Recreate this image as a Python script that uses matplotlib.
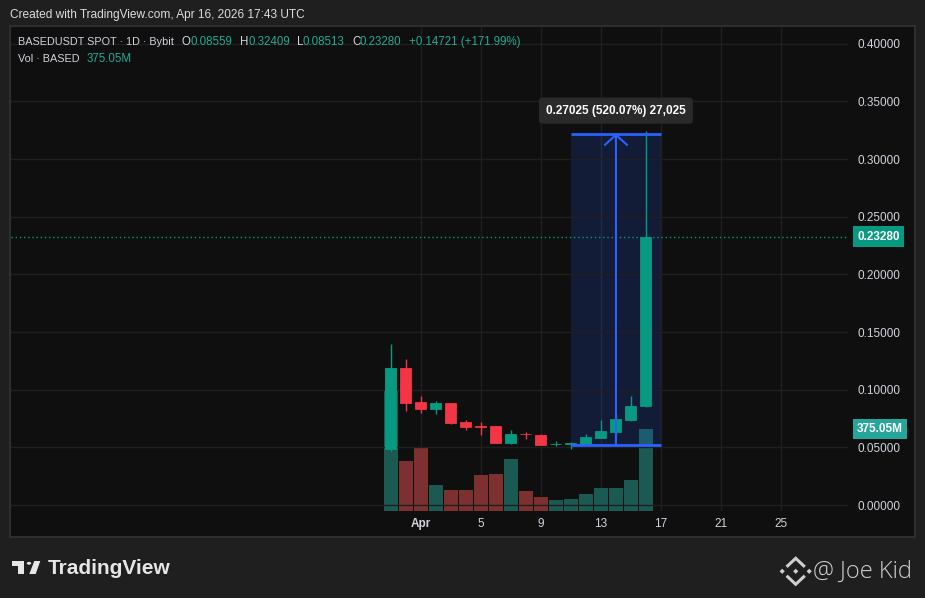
import matplotlib
matplotlib.use('Agg')
import matplotlib.pyplot as plt
import matplotlib.dates as mdates
from matplotlib.patches import Rectangle, Polygon, Circle
from matplotlib.lines import Line2D
from matplotlib.transforms import blended_transform_factory
import numpy as np

# daily candles, BASEDUSDT spot (Bybit)
dates = ['2026-03-30', '2026-03-31', '2026-04-01', '2026-04-02', '2026-04-03',
         '2026-04-04', '2026-04-05', '2026-04-06', '2026-04-07', '2026-04-08',
         '2026-04-09', '2026-04-10', '2026-04-11', '2026-04-12', '2026-04-13',
         '2026-04-14', '2026-04-15', '2026-04-16']
opens = [0.0486, 0.1188, 0.0893, 0.0833, 0.0885, 0.0720, 0.0684, 0.0685, 0.0538,
         0.0620, 0.0610, 0.0525, 0.0533, 0.0529, 0.0581, 0.0633, 0.0737, 0.08559]
highs = [0.1396, 0.1266, 0.0945, 0.0902, 0.0886, 0.0737, 0.0720, 0.0687, 0.0650,
         0.0636, 0.0616, 0.0555, 0.0546, 0.0616, 0.0737, 0.0789, 0.0945, 0.32409]
lows = [0.0470, 0.0818, 0.0798, 0.0792, 0.0703, 0.0650, 0.0607, 0.0537, 0.0529,
        0.0572, 0.0519, 0.0512, 0.0490, 0.0520, 0.0578, 0.0600, 0.0728, 0.08513]
closes = [0.1188, 0.0888, 0.0833, 0.0885, 0.0711, 0.0677, 0.0680, 0.0538, 0.0616,
          0.0614, 0.0520, 0.0528, 0.0536, 0.0590, 0.0642, 0.0746, 0.08559, 0.23280]
volumes_m = [553, 229, 288, 119, 96, 96, 165, 169, 238, 91.5, 64, 50, 55, 78,
             105, 105, 142, 375.05]

tick_dates = ['2026-04-01', '2026-04-05', '2026-04-09', '2026-04-13',
              '2026-04-17', '2026-04-21', '2026-04-25']
tick_labels = ['Apr', '5', '9', '13', '17', '21', '25']
price_ticks = [0.0, 0.05, 0.10, 0.15, 0.20, 0.25, 0.30, 0.35, 0.40]

# price range measure drawn on the chart
measure_start = '2026-04-11'
measure_end = '2026-04-17'
measure_low = 0.05196
measure_high = 0.32221
measure_text = '0.27025 (520.07%) 27,025'

UP = '#089981'
DOWN = '#f23645'
VOL_UP = '#1b5a52'
VOL_DOWN = '#7c3030'
TXT = '#d1d4dc'
TEAL_TXT = '#22ab94'
GRID = '#1f1f1f'
FONT = 'Liberation Sans'

W, H = 925, 598


def fx(x):
    return x / W


def fy(y):
    return 1 - y / H


fig = plt.figure(figsize=(W / 100, H / 100), dpi=100)
fig.patch.set_facecolor('#1f1f1f')

# chart pane
fig.add_artist(Rectangle((fx(10), fy(537)), 905 / W, 511 / H, transform=fig.transFigure,
                         fc='#0f0f0f', ec='#2e2e2e', lw=1.5, zorder=-5))

x = mdates.datestr2num(dates)
o = np.array(opens)
c = np.array(closes)
up = c >= o
apr1 = mdates.datestr2num('2026-04-01')

# volume axis underneath, price axis on top
ax = fig.add_axes([fx(11), fy(511), 837 / W, 484 / H])
ax.patch.set_visible(False)
ax.bar(x, np.array(volumes_m) * 1e6, width=0.92,
       color=[VOL_UP if u else VOL_DOWN for u in up], zorder=2)
ax.set_ylim(0, 2214e6)
ax.set_xlim(apr1 - 27.33, apr1 + 28.47)
ax.set_yticks([])
ax.set_xticks(mdates.datestr2num(tick_dates))
ax.set_xticklabels(tick_labels)
ax.tick_params(axis='x', length=0, pad=5, labelsize=8.5, labelcolor=TXT)
for lab in ax.get_xticklabels():
    lab.set_fontfamily(FONT)
ax.get_xticklabels()[0].set_fontweight('bold')
ax.grid(axis='x', color=GRID, lw=1, zorder=0)
for s in ax.spines.values():
    s.set_visible(False)

vol_tr = blended_transform_factory(ax.transAxes, ax.transData)
ax.text(1.0108, volumes_m[-1] * 1e6, f'{volumes_m[-1]:.2f}M', transform=vol_tr,
        ha='left', va='center', fontsize=8.5, family=FONT, fontweight='bold', color='white',
        bbox=dict(boxstyle='square,pad=0.35', fc='#26a69a', ec='none'), clip_on=False)

axp = ax.twinx()
axp.set_ylim(-0.0052, 0.4146)
axp.set_yticks(price_ticks)
axp.set_yticklabels([f'{p:.5f}' for p in price_ticks])
axp.tick_params(axis='y', length=0, pad=6.5, labelsize=8.5, labelcolor=TXT)
for lab in axp.get_yticklabels():
    lab.set_fontfamily(FONT)
axp.grid(axis='y', color=GRID, lw=1, zorder=0)
for s in axp.spines.values():
    s.set_visible(False)

# measure box
ms = mdates.datestr2num(measure_start)
me = mdates.datestr2num(measure_end)
axp.add_patch(Rectangle((ms, measure_low), me - ms, measure_high - measure_low,
                        fc='#2962ff', alpha=0.17, ec='none', zorder=1))

# candles
colors = [UP if u else DOWN for u in up]
axp.vlines(x, lows, highs, colors=colors, lw=1, zorder=3)
axp.bar(x, np.abs(c - o), bottom=np.minimum(o, c), width=0.73, color=colors,
        edgecolor=colors, lw=0.6, zorder=4)

# last price line + label
axp.axhline(closes[-1], color=UP, ls=(0, (1, 2)), lw=1, zorder=2)
pr_tr = blended_transform_factory(axp.transAxes, axp.transData)
axp.text(1.0108, closes[-1], f'{closes[-1]:.5f}', transform=pr_tr,
         ha='left', va='center', fontsize=8.5, family=FONT, fontweight='bold', color='white',
         bbox=dict(boxstyle='square,pad=0.35', fc=UP, ec='none'), clip_on=False)

# measure lines and arrow
axp.hlines([measure_low, measure_high], ms, me, colors='#2962ff', lw=2, zorder=5)
mid = (ms + me) / 2
axp.annotate('', xy=(mid, measure_high), xytext=(mid, measure_low),
             arrowprops=dict(arrowstyle='->,head_length=0.72,head_width=0.8', color='#2962ff',
                             lw=1.5, shrinkA=0, shrinkB=0, mutation_scale=10), zorder=5)
axp.annotate(measure_text, xy=(mid, measure_high), xytext=(0, 16.5), textcoords='offset points',
             ha='center', va='center', fontsize=8.5, family=FONT, fontweight='bold', color='white',
             bbox=dict(boxstyle='round,pad=0.6,rounding_size=0.3', fc='#2a2a2a', ec='none'),
             zorder=6)

# header and legend
fig.text(fx(10), fy(15), 'Created with TradingView.com, Apr 16, 2026 17:43 UTC',
         fontsize=8.6, family=FONT, color='#dcdcdc', va='center', ha='left')

chg = closes[-1] - closes[-2]
legend1 = [(17.9, 'BASEDUSDT SPOT · 1D · Bybit', TXT, 7.8),
           (182, 'O', TXT, 8.3), (190.4, f'{opens[-1]:.5f}', TEAL_TXT, 8.3),
           (240, 'H', TXT, 8.3), (248.2, f'{highs[-1]:.5f}', TEAL_TXT, 8.3),
           (297, 'L', TXT, 8.3), (302.9, f'{lows[-1]:.5f}', TEAL_TXT, 8.3),
           (352.5, 'C', TXT, 8.3), (360, f'{closes[-1]:.5f}', TEAL_TXT, 8.3),
           (409, f'+{chg:.5f} (+{chg / closes[-2] * 100:.2f}%)', TEAL_TXT, 8.3)]
for px, s, col, fs in legend1:
    fig.text(fx(px), fy(42), s, fontsize=fs, family=FONT, color=col, va='center', ha='left')
fig.text(fx(17.9), fy(59), 'Vol · BASED', fontsize=7.8, family=FONT, color=TXT,
         va='center', ha='left')
fig.text(fx(86.8), fy(59), f'{volumes_m[-1]:.2f}M', fontsize=8.3, family=FONT, color=TEAL_TXT,
         va='center', ha='left')

# footer: TradingView logo + text
LOGO = '#e6e6e6'
fig.add_artist(Polygon([(fx(12.3), fy(561)), (fx(24.3), fy(561)), (fx(24.3), fy(574)),
                        (fx(18.3), fy(574)), (fx(18.3), fy(566)), (fx(12.3), fy(566))],
                       closed=True, transform=fig.transFigure, fc=LOGO, ec='none'))
fig.add_artist(Polygon([(fx(29.3), fy(574)), (fx(35.7), fy(574)), (fx(40.3), fy(561)),
                        (fx(34.3), fy(561))], closed=True, transform=fig.transFigure,
                       fc=LOGO, ec='none'))
fig.add_artist(Circle((fx(29), fy(563.3)), 2.2 / W, transform=fig.transFigure, fc=LOGO, ec='none'))
fig.text(fx(47.5), fy(568), 'TradingView', fontsize=15, family=FONT, fontweight='bold',
         color=LOGO, va='center', ha='left')

# footer right: diamond icon + handle
ICON = '#cfcfcf'
cx, cy = 795.7, 571.3
for dx in (-13.5, 0, 13.5):
    d = 2.6
    fig.add_artist(Polygon([(fx(cx + dx - d), fy(cy)), (fx(cx + dx), fy(cy - d)),
                            (fx(cx + dx + d), fy(cy)), (fx(cx + dx), fy(cy + d))],
                           closed=True, transform=fig.transFigure, fc=ICON, ec='none'))
for sgn in (-1, 1):
    fig.add_artist(Line2D([fx(cx - 8), fx(cx), fx(cx + 8)],
                          [fy(cy + sgn * 5.5), fy(cy + sgn * 13), fy(cy + sgn * 5.5)],
                          transform=fig.transFigure, color=ICON, lw=2.2,
                          solid_joinstyle='miter'))
fig.text(fx(813), fy(572), '@ Joe Kid', fontsize=17, family='Open Sans', fontweight='light',
         color=ICON, va='center', ha='left')

fig.savefig('out.png', dpi=100, facecolor=fig.get_facecolor())
